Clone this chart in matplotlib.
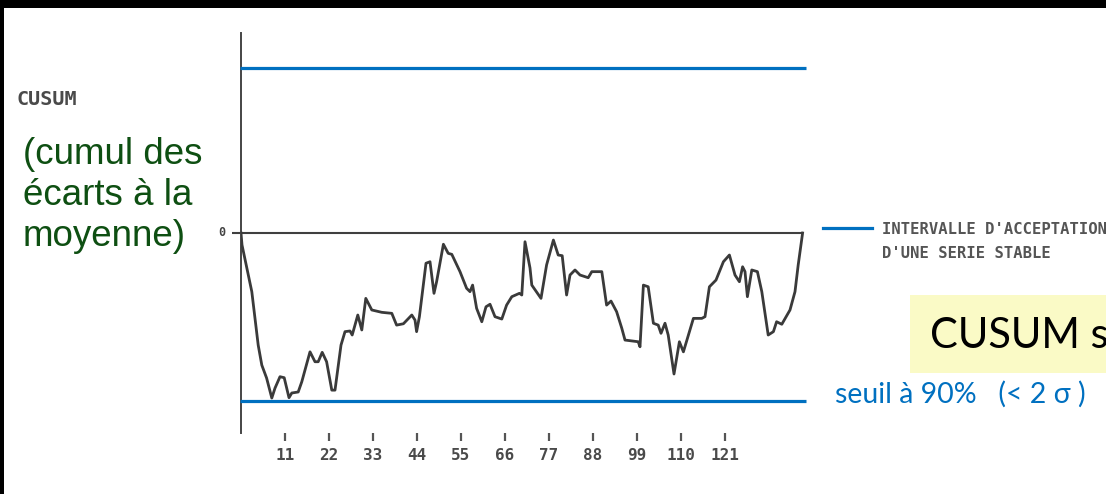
import matplotlib
matplotlib.use("Agg")
import matplotlib.pyplot as plt
from matplotlib.patches import Rectangle
from matplotlib.lines import Line2D

# ---------------- data ----------------
obs_index = [0, 0.25, 2.7, 4.3, 5.2, 6.4, 7.7, 8.5, 9.75, 10.8, 12.0, 12.7, 14.3, 15.2,
             17.25, 18.5, 19.3, 20.3, 21.4, 22.7, 23.5, 25.0, 26.0, 27.25, 27.8, 29.2,
             30.2, 31.2, 32.7, 35.2, 37.7, 38.9, 40.6, 42.7, 43.5, 43.9, 44.6, 46.25,
             47.25, 48.25, 48.9, 50.6, 51.8, 52.7, 54.75, 56.4, 57.25, 57.9, 58.9, 60.2,
             61.25, 62.25, 63.5, 65.2, 66.4, 67.7, 69.6, 70.2, 71.0, 72.25, 72.7, 75.0,
             76.4, 78.1, 79.3, 80.3, 81.4, 82.25, 83.5, 84.75, 86.8, 87.7, 90.2, 91.4,
             92.5, 93.9, 95.2, 96.0, 99.3, 99.75, 100.6, 101.8, 103.1, 104.3, 105.0,
             106.0, 106.8, 108.25, 109.6, 110.6, 113.1, 115.2, 116.0, 117.1, 118.75,
             120.6, 122.1, 123.5, 124.6, 125.4, 126.0, 126.6, 127.7, 129.1, 130.2,
             131.8, 133.1, 133.9, 135.2, 137.25, 138.5, 139.3, 140.4]
cusum = [0.0, -0.71, -3.49, -6.67, -7.86, -8.63, -9.82, -9.23, -8.55, -8.61, -9.80, -9.52,
         -9.46, -8.85, -7.07, -7.66, -7.66, -7.10, -7.66, -9.35, -9.35, -6.67, -5.87,
         -5.83, -6.07, -4.88, -5.77, -3.89, -4.58, -4.72, -4.78, -5.48, -5.40, -4.88,
         -5.18, -5.87, -4.98, -1.80, -1.71, -3.59, -2.90, -0.67, -1.21, -1.27, -2.30,
         -3.29, -3.49, -3.10, -4.48, -5.28, -4.39, -4.24, -4.98, -5.12, -4.29, -3.79,
         -3.59, -3.69, -0.52, -2.08, -3.10, -3.89, -1.90, -0.42, -1.31, -1.35, -3.69,
         -2.50, -2.20, -2.50, -2.66, -2.30, -2.30, -4.29, -4.05, -4.68, -5.67, -6.37,
         -6.47, -6.77, -3.10, -3.20, -5.37, -5.48, -5.97, -5.37, -6.07, -8.39, -6.47,
         -7.07, -5.08, -5.08, -4.98, -3.20, -2.80, -1.71, -1.31, -2.50, -2.90, -2.01,
         -2.30, -3.79, -2.20, -2.30, -3.49, -6.07, -5.87, -5.28, -5.43, -4.58, -3.49,
         -1.90, 0.0]

tick_pos = [11, 22, 33, 44, 55, 66, 77, 88, 99, 110, 121]
tick_labels = ["11", "22", "33", "44", "55", "66", "77", "88", "99", "110", "121"]

upper_limit = 9.82
lower_limit = -10.0
reference = 0.0
series_end = 140.4

# ---------------- figure ----------------
W, H = 1106, 494
fig = plt.figure(figsize=(W / 100, H / 100), dpi=100)
fig.patch.set_facecolor("white")


def P(px, py):
    return px / W, 1 - py / H


# axes: left at 241 px, right at 806 px, top at 33 px, bottom at 433 px
ax_left, ax_right, ax_top, ax_bot = 241, 806, 33, 433
ax = fig.add_axes([ax_left / W, 1 - ax_bot / H, (ax_right - ax_left) / W, (ax_bot - ax_top) / H])
ax.set_xlim(0, (ax_right - ax_left) / 4.0)
ax.set_ylim(-11.9, 11.9)
ax.patch.set_alpha(0)

for s in ["top", "right", "bottom"]:
    ax.spines[s].set_visible(False)
ax.spines["left"].set_color("#454545")
ax.spines["left"].set_linewidth(1.4)

ax.set_yticks([])
ax.set_xticks(tick_pos)
ax.set_xticklabels(tick_labels, fontfamily="DejaVu Sans Mono", fontweight="bold",
                   fontsize=11.5, color="#4a4a4a")
ax.tick_params(axis="x", direction="out", length=6, width=1.6, color="#555555", pad=5)

# reference line (top of acceptance interval)
ax.hlines(reference, -2.3, series_end, color="#3f3f3f", lw=1.5, clip_on=False, zorder=3)
ax.text(-4.8, reference, "0", ha="center", va="center", fontfamily="DejaVu Sans Mono",
        fontweight="bold", fontsize=8.5, color="#444444")

# blue thresholds
ax.hlines([upper_limit, lower_limit], -0.3, ax.get_xlim()[1], color="#0070C0", lw=2.3,
          clip_on=False, zorder=4)

# CUSUM curve
ax.plot(obs_index, cusum, color="#3a3a3a", lw=2.0, solid_joinstyle="round", zorder=5)

# ---------------- annotations ----------------
fig.text(*P(17, 105), "CUSUM", fontfamily="DejaVu Sans Mono", fontweight="bold",
         fontsize=14.5, color="#4a4a4a", va="baseline", ha="left")

green = "#0E4F12"
for txt, base in [("(cumul des", 164), ("écarts à la", 205), ("moyenne)", 246)]:
    fig.text(*P(23, base), txt, fontfamily="Liberation Sans", fontsize=26.5, color=green,
             va="baseline", ha="left")

fig.add_artist(Line2D([823 / W, 872 / W], [1 - 228 / H, 1 - 228 / H], color="#0070C0",
                      lw=2.3, transform=fig.transFigure))
fig.text(*P(882, 229), "INTERVALLE D'ACCEPTATION", fontfamily="DejaVu Sans Mono",
         fontweight="bold", fontsize=11.2, color="#555555", va="center", ha="left")
fig.text(*P(882, 253), "D'UNE SERIE STABLE", fontfamily="DejaVu Sans Mono",
         fontweight="bold", fontsize=11.2, color="#555555", va="center", ha="left")

fig.add_artist(Rectangle(P(910, 373), (W - 910) / W + 0.01, 78 / H,
                         transform=fig.transFigure, facecolor="#FAFAC6", edgecolor="none",
                         zorder=1))
fig.text(*P(930, 348), "CUSUM s", fontfamily="Lato", fontsize=30, color="black",
         va="baseline", ha="left", zorder=2)

fig.text(*P(835, 403), "seuil à 90%   (< 2 σ )", family=["Lato", "DejaVu Sans"],
         fontsize=20.5, color="#0070C0", va="baseline", ha="left")

# black frame edges (top and left)
fig.add_artist(Rectangle((0, 1 - 8 / H), 1, 8 / H, transform=fig.transFigure,
                         facecolor="black", edgecolor="none", zorder=10))
fig.add_artist(Rectangle((0, 0), 4 / W, 1, transform=fig.transFigure,
                         facecolor="black", edgecolor="none", zorder=10))

fig.savefig("out.png", dpi=100)
